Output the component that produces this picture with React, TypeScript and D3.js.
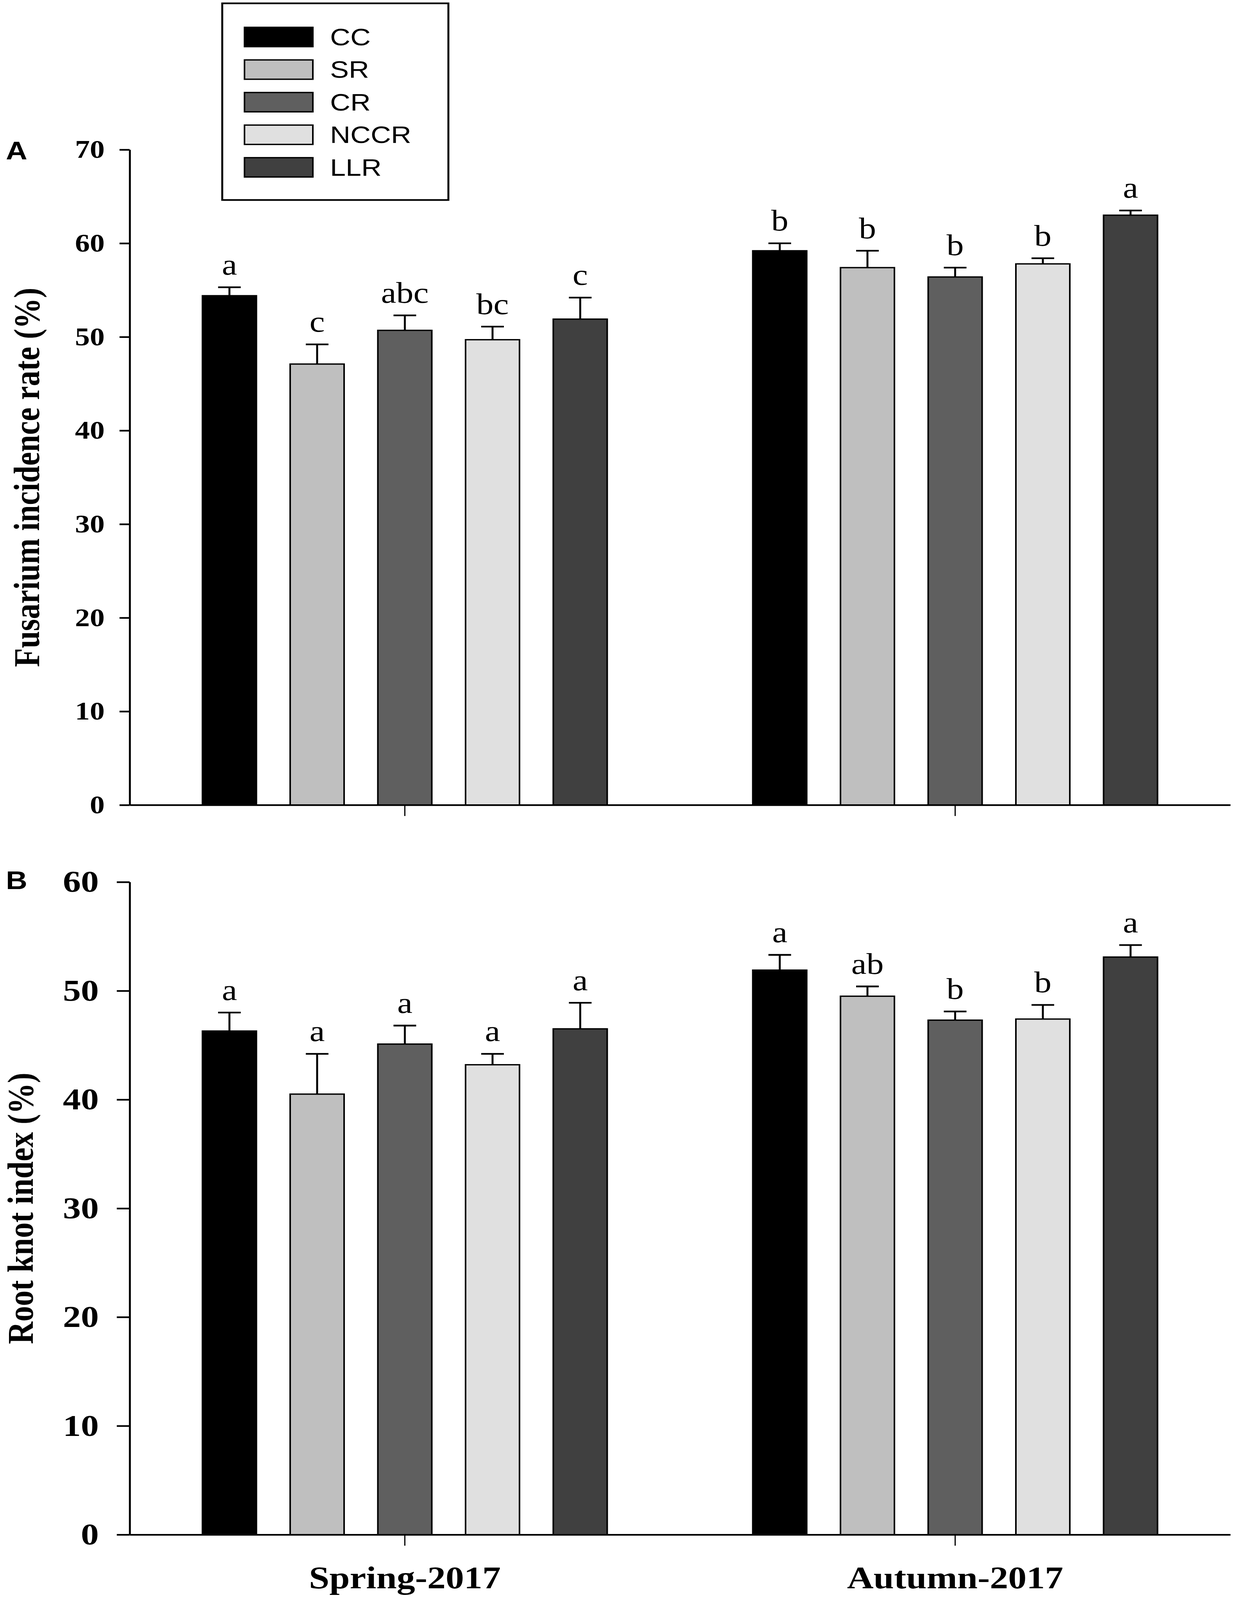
import { useEffect, useRef, useState } from 'react';
import * as d3 from 'd3';

const W = 3162;
const H = 4800;

const seasons = ['Spring-2017', 'Autumn-2017'];
const treatments = ['CC', 'SR', 'CR', 'NCCR', 'LLR'];
const fills = ['#000000', '#bfbfbf', '#5f5f5f', '#e0e0e0', '#404040'];

// A: Fusarium incidence rate (%)
const fusariumSpring = [54.4, 47.1, 50.7, 49.7, 51.9];
const fusariumSpringSE = [0.9, 2.1, 1.6, 1.4, 2.3];
const fusariumSpringLetters = ['a', 'c', 'abc', 'bc', 'c'];
const fusariumAutumn = [59.2, 57.4, 56.4, 57.8, 63.0];
const fusariumAutumnSE = [0.8, 1.8, 1.0, 0.6, 0.5];
const fusariumAutumnLetters = ['b', 'b', 'b', 'b', 'a'];
const fusariumTicks = [0, 10, 20, 30, 40, 50, 60, 70];

// B: Root knot index (%)
const knotSpring = [46.3, 40.5, 45.1, 43.2, 46.5];
const knotSpringSE = [1.7, 3.7, 1.7, 1.0, 2.4];
const knotSpringLetters = ['a', 'a', 'a', 'a', 'a'];
const knotAutumn = [51.9, 49.5, 47.3, 47.4, 53.1];
const knotAutumnSE = [1.4, 0.9, 0.8, 1.3, 1.1];
const knotAutumnLetters = ['a', 'ab', 'b', 'b', 'a'];
const knotTicks = [0, 10, 20, 30, 40, 50, 60];

const SERIF = '"Liberation Serif", "Times New Roman", serif';
const SANS = '"Liberation Sans", Arial, sans-serif';

export default function App() {
  const ref = useRef<SVGSVGElement | null>(null);
  // the window can be shorter than the drawing; the viewBox keeps everything in view
  const [viewH, setViewH] = useState(Math.min(H, window.innerHeight || H));

  useEffect(() => {
    document.body.style.margin = '0';
    setViewH(Math.min(H, window.innerHeight || H));
  }, []);

  useEffect(() => {
    if (!ref.current) return;
    const svg = d3.select(ref.current);
    svg.selectAll('*').remove();

    const left = 332;
    const right = 3150;

    const x0 = d3.scaleBand<string>().domain(seasons).range([left, right]);
    const x1 = d3
      .scaleBand<string>()
      .domain(treatments)
      .range([0, x0.bandwidth()])
      .paddingInner(0.385)
      .paddingOuter(0.83);

    const panels = [
      {
        tag: 'A',
        title: 'Fusarium incidence rate (%)',
        top: 449,
        bottom: 2415,
        max: 70,
        ticks: fusariumTicks,
        tickSize: 26,
        tickFont: 76,
        tickPad: 38,
        titleX: 100,
        titleLen: 1138,
        tagY: 478,
        series: [
          [fusariumSpring, fusariumSpringSE, fusariumSpringLetters],
          [fusariumAutumn, fusariumAutumnSE, fusariumAutumnLetters],
        ],
        xLabels: false,
      },
      {
        tag: 'B',
        title: 'Root knot index (%)',
        top: 2646,
        bottom: 4604,
        max: 60,
        ticks: knotTicks,
        tickSize: 33,
        tickFont: 92,
        tickPad: 46,
        titleX: 84,
        titleLen: 814,
        tagY: 2667,
        series: [
          [knotSpring, knotSpringSE, knotSpringLetters],
          [knotAutumn, knotAutumnSE, knotAutumnLetters],
        ],
        xLabels: true,
      },
    ];

    panels.forEach((p) => {
      const y = d3.scaleLinear().domain([0, p.max]).range([p.bottom, p.top]);
      const g = svg.append('g');

      // bars
      p.series.forEach((s, si) => {
        const vals = s[0] as number[];
        const se = s[1] as number[];
        const letters = s[2] as string[];
        const gx = x0(seasons[si])!;
        const grp = g.append('g').attr('transform', `translate(${gx},0)`);

        treatments.forEach((t, i) => {
          const bx = x1(t)!;
          const cx = bx + x1.bandwidth() / 2;
          grp
            .append('rect')
            .attr('x', bx)
            .attr('y', y(vals[i]))
            .attr('width', x1.bandwidth())
            .attr('height', y(0) - y(vals[i]))
            .attr('fill', fills[i])
            .attr('stroke', '#000')
            .attr('stroke-width', 4);

          const yt = y(vals[i] + se[i]);
          grp
            .append('line')
            .attr('x1', cx)
            .attr('x2', cx)
            .attr('y1', y(vals[i]))
            .attr('y2', yt)
            .attr('stroke', '#000')
            .attr('stroke-width', 5);
          grp
            .append('line')
            .attr('x1', cx - 29)
            .attr('x2', cx + 29)
            .attr('y1', yt)
            .attr('y2', yt)
            .attr('stroke', '#000')
            .attr('stroke-width', 5);

          grp
            .append('text')
            .attr('x', cx)
            .attr('y', yt - 38)
            .attr('text-anchor', 'middle')
            .attr('font-family', SERIF)
            .attr('font-size', 88)
            .text(letters[i]);
        });
      });

      // y axis
      const ya = g
        .append('g')
        .attr('transform', `translate(${left},0)`)
        .call(
          d3
            .axisLeft(y)
            .tickValues(p.ticks)
            .tickSize(p.tickSize)
            .tickSizeOuter(0)
            .tickPadding(p.tickPad)
            .tickFormat(d3.format('d'))
        );
      ya.selectAll('path, line').attr('stroke', '#000').attr('stroke-width', 5);
      ya.selectAll('text')
        .attr('font-family', SERIF)
        .attr('font-weight', 'bold')
        .attr('font-size', p.tickFont)
        .attr('fill', '#000');

      // x axis
      const xa = g
        .append('g')
        .attr('transform', `translate(0,${p.bottom})`)
        .call(d3.axisBottom(x0).tickSize(33).tickSizeOuter(0).tickPadding(61));
      xa.selectAll('path').attr('stroke', '#000').attr('stroke-width', 5);
      xa.selectAll('line').attr('stroke', '#000').attr('stroke-width', 3);
      xa.selectAll('text')
        .attr('font-family', SERIF)
        .attr('font-weight', 'bold')
        .attr('font-size', 94)
        .attr('fill', '#000')
        .style('display', p.xLabels ? null : 'none');

      // y title
      g.append('text')
        .attr('transform', `translate(${p.titleX},${(p.top + p.bottom) / 2}) rotate(-90)`)
        .attr('text-anchor', 'middle')
        .attr('font-family', SERIF)
        .attr('font-weight', 'bold')
        .attr('font-size', 93)
        .attr('textLength', p.titleLen)
        .attr('lengthAdjust', 'spacingAndGlyphs')
        .text(p.title);

      // panel tag
      g.append('text')
        .attr('x', 15)
        .attr('y', p.tagY)
        .attr('font-family', SANS)
        .attr('font-weight', 'bold')
        .attr('font-size', 76)
        .text(p.tag);
    });

    // legend
    const lg = svg.append('g');
    lg.append('rect')
      .attr('x', 569)
      .attr('y', 10)
      .attr('width', 579)
      .attr('height', 590)
      .attr('fill', '#fff')
      .attr('stroke', '#000')
      .attr('stroke-width', 5);
    const ly = d3.scalePoint<string>().domain(treatments).range([111, 502]);
    treatments.forEach((t, i) => {
      lg.append('rect')
        .attr('x', 626)
        .attr('y', ly(t)! - 29)
        .attr('width', 175)
        .attr('height', 58)
        .attr('fill', fills[i])
        .attr('stroke', '#000')
        .attr('stroke-width', 4);
      lg.append('text')
        .attr('x', 845)
        .attr('y', ly(t)! + 25)
        .attr('font-family', SANS)
        .attr('font-size', 72)
        .text(t);
    });
  }, []);

  return (
    <svg
      ref={ref}
      width={W}
      height={viewH}
      viewBox={`0 0 ${W} ${H}`}
      preserveAspectRatio="none"
      style={{ display: 'block', background: '#fff' }}
    />
  );
}
